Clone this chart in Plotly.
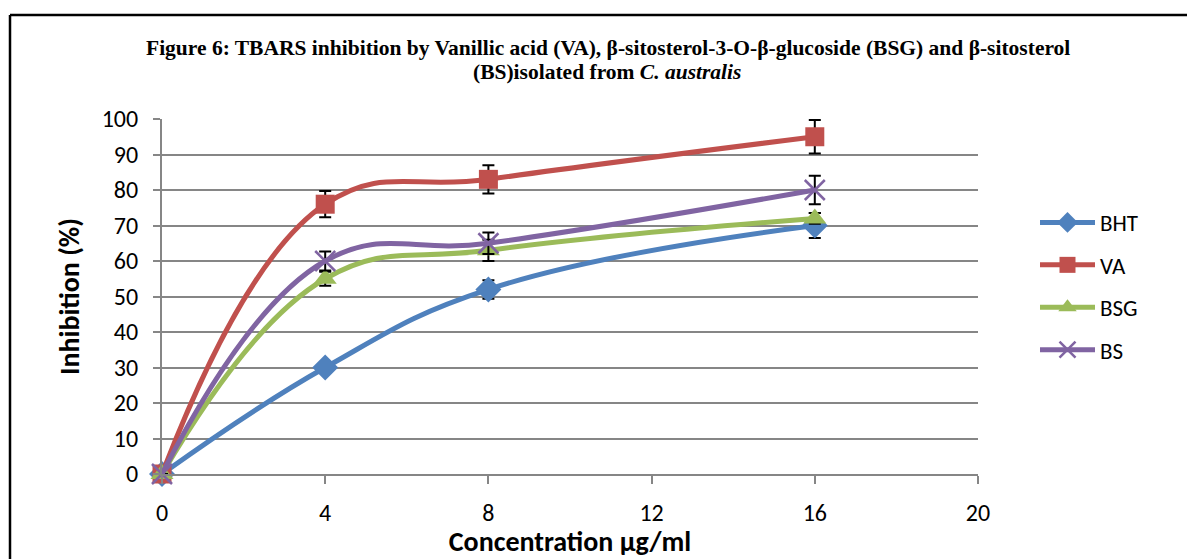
import plotly.graph_objects as go

conc = [0, 4, 8, 16]
bht = [0, 30, 52, 70]
va = [0, 76, 83, 95]
bsg = [0, 55, 63, 72]
bs = [0, 60, 65, 80]
bht_err = [0, 1.5, 2.6, 3.5]
va_err = [0, 3.7, 4.0, 4.7]
bsg_err = [0, 2.0, 3.0, 1.5]
bs_err = [0, 2.7, 3.0, 4.0]

series = [
    ("BHT", bht, bht_err, "#4F81BD", "diamond", 20),
    ("VA", va, va_err, "#C0504D", "square", 19),
    ("BSG", bsg, bsg_err, "#9BBB59", "triangle-up", 20),
    ("BS", bs, bs_err, "#8064A2", "x-thin", 20),
]

AX_FONT = "Carlito, Lato, 'Open Sans', sans-serif"
TITLE_FONT = "'Liberation Serif', 'Times New Roman', serif"

# page body has an 8px margin; plot area target (page px): x 162..978, y 119..474
OFF = 8
W, H = 1195 - OFF, 559 - OFF
L, T = 162 - OFF, 119 - OFF
R = W - (978 - OFF)
B = H - (474 - OFF)
PW, PH = 978 - 162, 474 - 119


def px(xp):
    return (xp - 162) / PW


def py(yp):
    return (474 - yp) / PH


fig = go.Figure()
for name, ys, err, color, sym, size in series:
    marker = dict(symbol=sym, size=size, color=color)
    if sym == "x-thin":
        marker["line"] = dict(width=2.5, color=color)
    else:
        marker["line"] = dict(width=0)
    fig.add_trace(go.Scatter(
        x=conc, y=ys, name=name, mode="lines+markers",
        line=dict(color=color, width=5, shape="spline", smoothing=1.2),
        marker=marker, cliponaxis=False, legendgroup=name,
        error_y=dict(type="data", array=err, visible=True, color="black",
                     thickness=2, width=6),
    ))

fig.update_layout(
    width=W, height=H,
    margin=dict(l=L, r=R, t=T, b=B, autoexpand=False),
    paper_bgcolor="white", plot_bgcolor="white",
    showlegend=True,
    legend=dict(x=px(1035), y=py(201), xanchor="left", yanchor="top",
                font=dict(family=AX_FONT, size=23, color="black"),
                tracegroupgap=9.5, itemwidth=55, bgcolor="rgba(0,0,0,0)"),
    font=dict(family=AX_FONT, color="black"),
)
fig.update_xaxes(
    range=[0, 20], tickvals=[0, 4, 8, 12, 16, 20], showgrid=False,
    showline=True, linecolor="#868686", linewidth=2, automargin=False,
    ticks="outside", ticklen=8, tickcolor="#868686", tickwidth=2,
    ticklabelstandoff=8,
    tickfont=dict(size=24, family=AX_FONT, color="black"), zeroline=False,
    title=dict(text="<b>Concentration µg/ml</b>", font=dict(size=28, family=AX_FONT), standoff=25),
)
fig.update_yaxes(
    range=[0, 100], dtick=10, showgrid=True, gridcolor="#868686", gridwidth=2,
    showline=True, linecolor="#868686", linewidth=2, automargin=False,
    ticks="outside", ticklen=7, tickcolor="#868686", tickwidth=2,
    ticklabelstandoff=10,
    tickfont=dict(size=24, family=AX_FONT, color="black"), zeroline=False,
    title=dict(text="<b>Inhibition (%)</b>", font=dict(size=28, family=AX_FONT), standoff=14),
)

fig.add_annotation(
    xref="paper", yref="paper", x=px(608), y=py(48),
    xanchor="center", yanchor="middle", showarrow=False,
    text="<b>Figure 6: TBARS inhibition by Vanillic acid (VA), β-sitosterol-3-O-β-glucoside (BSG) and β-sitosterol</b>",
    font=dict(family=TITLE_FONT, size=21.5, color="black"),
)
fig.add_annotation(
    xref="paper", yref="paper", x=px(607), y=py(72),
    xanchor="center", yanchor="middle", showarrow=False,
    text="<b>(BS)isolated from <i>C. australis</i></b>",
    font=dict(family=TITLE_FONT, size=21.5, color="black"),
)

# outer frame (left and top)
fig.add_shape(type="line", xref="paper", yref="paper",
              x0=px(10), x1=px(10), y0=py(15), y1=py(600),
              line=dict(color="black", width=2.5))
fig.add_shape(type="line", xref="paper", yref="paper",
              x0=px(10), x1=px(1200), y0=py(15), y1=py(15),
              line=dict(color="black", width=2.5))

fig.write_html("out.html")
